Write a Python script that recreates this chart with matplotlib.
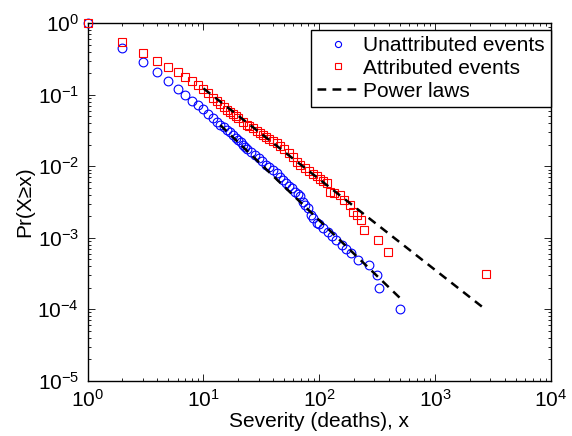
import numpy as np
import matplotlib
matplotlib.use("Agg")
import matplotlib.pyplot as plt

plt.rcParams["font.family"] = ["Liberation Sans", "DejaVu Sans"]
plt.rcParams["mathtext.fontset"] = "custom"
plt.rcParams["mathtext.rm"] = "Liberation Sans"
plt.rcParams["mathtext.it"] = "Liberation Sans:italic"

# Empirical CCDF, unattributed events
unattr_x = [1, 2, 3, 4, 5, 6, 7, 8, 9, 10, 11, 12, 13, 14, 15, 16, 17, 18, 19,
            20, 21, 22, 23, 24, 26, 28, 30, 32, 35, 37, 40, 43, 46, 49, 52, 55,
            58, 62, 65, 68, 72, 76, 80, 85, 89, 95, 100, 108, 118, 128, 140,
            156, 170, 190, 216, 268, 316, 329, 500]
unattr_p = [1.0, 0.456, 0.290, 0.206, 0.156, 0.119, 0.0993, 0.0819, 0.072,
            0.063, 0.054, 0.047, 0.042, 0.038, 0.035, 0.0325, 0.030, 0.0275,
            0.025, 0.0235, 0.0215, 0.020, 0.0188, 0.0177, 0.016, 0.0145,
            0.013, 0.0118, 0.0105, 0.0098, 0.0089, 0.0080, 0.0071, 0.0064,
            0.0058, 0.0053, 0.0050, 0.0044, 0.0041, 0.0038, 0.0032, 0.0029,
            0.0026, 0.0021, 0.00187, 0.0016, 0.00155, 0.00136, 0.0012,
            0.00104, 0.00092, 0.00079, 0.00070, 0.00061, 0.00049, 0.00041,
            0.00030, 0.00020, 0.00010]

# Empirical CCDF, attributed events
attr_x = [1, 2, 3, 4, 5, 6, 7, 8, 9, 10, 11, 12, 13, 14, 15, 16, 17, 18, 19,
          20, 22, 24, 25, 27, 29, 31, 33, 35, 37, 40, 43, 46, 50, 55, 59, 64,
          68, 75, 82, 88, 95, 101, 108, 116, 123, 135, 150, 165, 183, 196, 212,
          231, 246, 322, 390, 2743]
attr_p = [1.0, 0.553, 0.388, 0.300, 0.243, 0.206, 0.177, 0.156, 0.137, 0.119,
          0.105, 0.091, 0.083, 0.074, 0.067, 0.062, 0.058, 0.053, 0.050,
          0.047, 0.042, 0.038, 0.036, 0.034, 0.031, 0.029, 0.027, 0.026,
          0.024, 0.0225, 0.021, 0.0195, 0.0175, 0.0155, 0.0133, 0.0115,
          0.0105, 0.0094, 0.0085, 0.0078, 0.0072, 0.0066, 0.0062, 0.0058,
          0.0044, 0.0042, 0.0040, 0.0034, 0.0029, 0.0023, 0.0021, 0.00177,
          0.00129, 0.00093, 0.00064, 0.00031]

# Power-law fits: xmin, xmax, Pr(X>=xmin), alpha
unattr_fit = dict(xmin=14, xmax=500, p0=0.0377, alpha=2.56)
attr_fit = dict(xmin=10, xmax=2570, p0=0.123, alpha=2.27)


def powerlaw_line(fit):
    xs = np.logspace(np.log10(fit["xmin"]), np.log10(fit["xmax"]), 50)
    ys = fit["p0"] * (xs / fit["xmin"]) ** (1 - fit["alpha"])
    return xs, ys


fig = plt.figure(figsize=(5.72, 4.36), dpi=100)
ax = fig.add_axes([0.153, 0.127, 0.810, 0.8195])

ax.loglog(unattr_x, unattr_p, "o", mfc="none", mec="blue", ms=6.3, mew=0.8,
          label="Unattributed events", clip_on=False, zorder=3)
ax.loglog(attr_x, attr_p, "s", mfc="none", mec="red", ms=5.6, mew=0.8,
          label="Attributed events", clip_on=False, zorder=3)

for i, fit in enumerate([unattr_fit, attr_fit]):
    xs, ys = powerlaw_line(fit)
    ax.loglog(xs, ys, "--", color="black", lw=1.8, dashes=(3.5, 2.5),
              label="Power laws" if i == 0 else None, zorder=4)

ax.set_xlim(1, 1e4)
ax.set_ylim(1e-5, 1)
ax.set_xlabel("Severity (deaths), x", fontsize=15, labelpad=1)
ax.set_ylabel("Pr(X\u2265x)", fontsize=15, labelpad=2)

ax.tick_params(which="both", direction="in", top=True, right=True,
               labelsize=15, width=0.6)
ax.tick_params(which="major", length=5, pad=6)
ax.tick_params(which="minor", length=2.5)
ax.xaxis.set_minor_locator(matplotlib.ticker.LogLocator(subs=np.arange(2, 10)))
ax.yaxis.set_minor_locator(matplotlib.ticker.LogLocator(subs=np.arange(2, 10)))
for s in ax.spines.values():
    s.set_linewidth(1.0)

leg = ax.legend(loc="upper right", bbox_to_anchor=(1.0, 0.982),
                borderaxespad=0, fontsize=15, fancybox=False, framealpha=1,
                edgecolor="black", handlelength=2.0, handletextpad=0.2,
                labelspacing=0.18, borderpad=0.3, markerscale=0.7)
leg.get_frame().set_linewidth(1.0)
leg.set_zorder(5)

fig.savefig("out.png", dpi=100)
